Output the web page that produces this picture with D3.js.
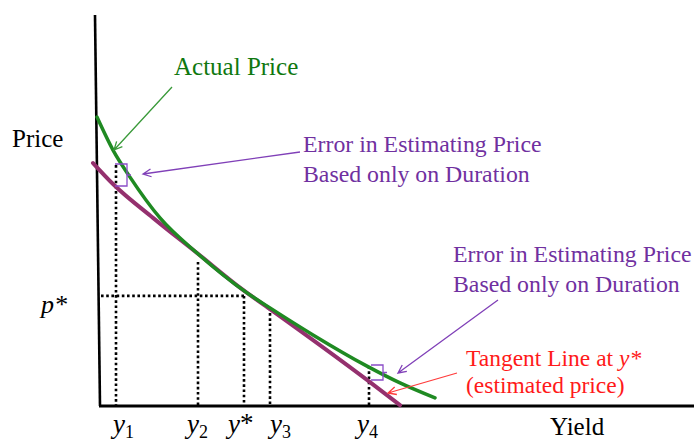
<!DOCTYPE html>
<html>
<head>
<meta charset="utf-8">
<script src="https://cdn.jsdelivr.net/npm/d3@7"></script>
<style>
  body { margin: 0; background: white; }
  svg text { font-family: "Liberation Serif", "Times New Roman", serif; }
</style>
</head>
<body>
<div id="chart"></div>
<script>
// price / yield schematic
const actualPrice = [
    [-0.6, 96.3], [2.6, 85.3], [6, 76.3], [12, 62.7], [19.4, 51],
    [29.4, 37.7], [34, 32.7], [42.6, 23.7], [53.4, 13.3], [60, 7.7], [67, 2.7]
];
const tangentPrice = [
    [-1.4, 81], [2.6, 74], [10.6, 62.7], [19.4, 51], [28.6, 38.7],
    [34, 32.3], [53.4, 8.7], [60, 0.3]
];
const yieldTicks = [3.2, 19.6, 28.8, 34, 53.8];
const tickTops = [80.3, 48, 36.7, 32.7, 13.3];
const tickNames = ["1", "2", "*", "3", "4"];
const pStar = 36.7;
const pStarEnd = 28.8;

function drawChart () {
    const w = 694;
    const h = 441;

    let x = d3.scaleLinear([0, 120], [100, 700]);
    let y = d3.scaleLinear([0, 130], [406, 16]);

    let svg = d3.select("#chart")
        .append("svg")
        .attr("width", w)
        .attr("height", h);

    const green = "#1f8a22";
    const maroon = "#94306e";

    // dotted guide lines
    svg.append("line")
        .attr("x1", x(0.2)).attr("x2", x(pStarEnd))
        .attr("y1", y(pStar)).attr("y2", y(pStar))
        .attr("stroke", "black")
        .attr("stroke-width", 2.6)
        .attr("stroke-dasharray", "2.6,2.6");

    svg.selectAll(".guide")
        .data(yieldTicks)
        .enter()
        .append("line")
        .attr("class", "guide")
        .attr("x1", d => x(d)).attr("x2", d => x(d))
        .attr("y1", (d, i) => y(tickTops[i]))
        .attr("y2", y(0))
        .attr("stroke", "black")
        .attr("stroke-width", 2.6)
        .attr("stroke-dasharray", "2.6,2.6");

    // axes
    svg.append("line")
        .attr("x1", x(-1)).attr("y1", y(130.3))
        .attr("x2", x(0)).attr("y2", y(0))
        .attr("stroke", "black").attr("stroke-width", 2.6);
    svg.append("line")
        .attr("x1", x(-0.2)).attr("y1", y(0))
        .attr("x2", x(119)).attr("y2", y(0))
        .attr("stroke", "black").attr("stroke-width", 3);

    let line = d3.line()
        .x(d => x(d[0]))
        .y(d => y(d[1]))
        .curve(d3.curveMonotoneX);

    svg.append("path")
        .attr("d", line(tangentPrice))
        .attr("fill", "none")
        .attr("stroke", maroon)
        .attr("stroke-width", 4)
        .attr("stroke-linecap", "round");

    svg.append("path")
        .attr("d", line(actualPrice))
        .attr("fill", "none")
        .attr("stroke", green)
        .attr("stroke-width", 3.5)
        .attr("stroke-linecap", "round");

    // brackets showing the error
    function bracket (x0, y0, x1, y1) {
        let ym = (y0 + y1) / 2;
        svg.append("path")
            .attr("d", `M${x0},${y0} L${x1},${y0} L${x1},${y1} L${x0},${y1} M${x1},${ym} L${x1 + 4},${ym}`)
            .attr("fill", "none")
            .attr("stroke", "#8a4cc8")
            .attr("stroke-width", 1.3);
    }
    bracket(115, 164, 127, 186);
    bracket(371, 365, 383, 380);

    function arrow (x0, y0, x1, y1, color) {
        let a = Math.atan2(y1 - y0, x1 - x0);
        let len = 9;
        let p1 = [x1 - len * Math.cos(a - 0.45), y1 - len * Math.sin(a - 0.45)];
        let p2 = [x1 - len * Math.cos(a + 0.45), y1 - len * Math.sin(a + 0.45)];
        svg.append("path")
            .attr("d", `M${x0},${y0} L${x1},${y1} M${p1[0]},${p1[1]} L${x1},${y1} L${p2[0]},${p2[1]}`)
            .attr("fill", "none")
            .attr("stroke", color)
            .attr("stroke-width", 1.3);
    }
    arrow(172, 87, 114, 150, "#3a9a3a");
    arrow(300, 152, 143, 174, "#8040b8");
    arrow(498, 300, 398, 373, "#8040b8");
    arrow(457, 373, 388, 393, "#ff3b3b");

    // text labels
    svg.append("text")
        .attr("x", 12).attr("y", 147)
        .attr("font-size", 25)
        .text("Price");

    svg.append("text")
        .attr("x", 41).attr("y", 313)
        .attr("font-size", 26)
        .attr("font-style", "italic")
        .text("p*");

    svg.append("text")
        .attr("x", 174).attr("y", 75)
        .attr("font-size", 25)
        .attr("fill", "#0f780f")
        .text("Actual Price");

    let errorLines = ["Error in Estimating Price", "Based only on Duration"];
    for (let [tx, ty] of [[303, 152], [453, 262]]) {
        svg.append("g")
            .selectAll("text")
            .data(errorLines)
            .enter()
            .append("text")
            .attr("x", tx)
            .attr("y", (d, i) => ty + i * 30)
            .attr("font-size", 23.8)
            .attr("fill", "#7030a0")
            .text(d => d);
    }

    let tangentText = svg.append("text")
        .attr("x", 466).attr("y", 366)
        .attr("font-size", 23.5)
        .attr("fill", "#ff1a1a");
    tangentText.append("tspan").text("Tangent Line at ");
    tangentText.append("tspan").attr("font-style", "italic").text("y*");
    svg.append("text")
        .attr("x", 466).attr("y", 393)
        .attr("font-size", 23.5)
        .attr("fill", "#ff1a1a")
        .text("(estimated price)");

    svg.append("text")
        .attr("x", 550).attr("y", 435)
        .attr("font-size", 25)
        .text("Yield");

    // yield tick labels
    const labelShift = [-3, -11, -16, 0, -12];
    svg.selectAll(".ylab")
        .data(yieldTicks)
        .enter()
        .append("text")
        .attr("class", "ylab")
        .attr("x", (d, i) => x(d) + labelShift[i])
        .attr("y", 433)
        .attr("font-size", 27)
        .attr("font-style", "italic")
        .each(function (d, i) {
            let t = d3.select(this);
            t.append("tspan").text("y");
            if (tickNames[i] == "*") {
                t.append("tspan").attr("font-style", "normal").attr("dy", -1).text("*");
            } else {
                t.append("tspan")
                    .attr("font-style", "normal")
                    .attr("font-size", 18)
                    .attr("dy", 5)
                    .text(tickNames[i]);
            }
        });
}

drawChart();
</script>
</body>
</html>
